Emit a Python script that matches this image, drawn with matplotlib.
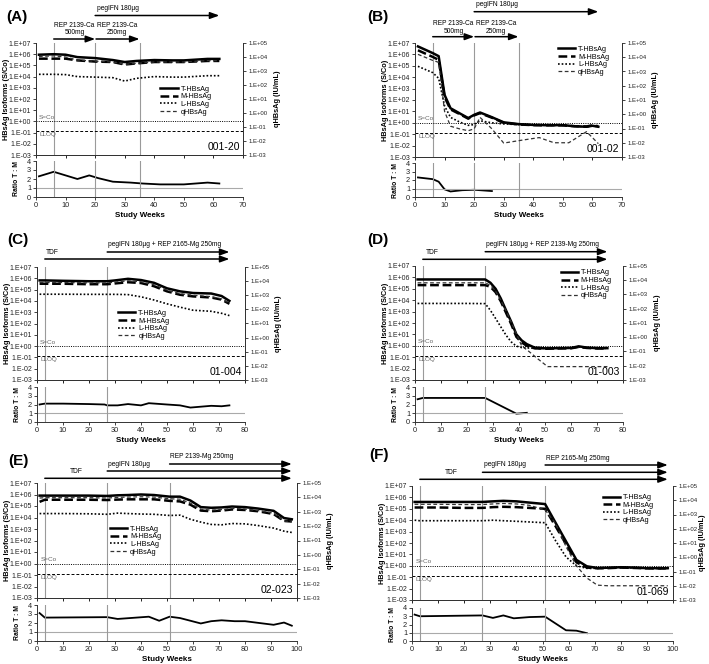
import numpy as np
import matplotlib
matplotlib.use('Agg')
import matplotlib.pyplot as plt
import matplotlib.transforms as mtrans
from matplotlib.ticker import FuncFormatter, NullLocator

plt.rcParams['font.family'] = ['Liberation Sans', 'DejaVu Sans']

W, H = 709, 664

# ---------------- data: weeks, isoforms in S/Co, qHBsAg in IU/mL ----------------
# (A) 001-20
wk_A = [1, 6, 10, 14, 20, 26, 30, 34, 40, 46, 50, 58, 62]
T_A = [9e5, 1e6, 9e5, 5.5e5, 4.5e5, 3e5, 2e5, 2.5e5, 3e5, 2.8e5, 2.8e5, 3.8e5, 3.8e5]
M_A = [4e5, 4e5, 4e5, 2.8e5, 2.2e5, 2e5, 1.2e5, 1.5e5, 2e5, 2e5, 2e5, 2.5e5, 2.5e5]
L_A = [1.6e4, 1.6e4, 1.5e4, 1e4, 9e3, 8e3, 4e3, 7e3, 1e4, 9e3, 9e3, 1.2e4, 1.2e4]
q_A = [1.1e4, 1.2e4, 1e4, 6e3, 5e3, 4.4e3, 3e3, 3.5e3, 4.4e3, 4.4e3, 4.4e3, 5.5e3, 5.5e3]
wk_rA = [1, 6, 10, 14, 18, 21, 26, 32, 36, 42, 50, 58, 62]
r_A = [2.3, 2.8, 2.4, 2.0, 2.4, 2.1, 1.7, 1.6, 1.5, 1.4, 1.4, 1.6, 1.5]

# (B) 001-02
wk_B = [1, 6, 8, 10, 12, 15, 18, 20, 22, 26, 30, 35, 40, 45, 50, 54, 58, 60, 62]
T_B = [5e6, 1.3e6, 7e5, 2.8e2, 19, 7, 2.6, 5, 8, 3.1, 1.1, 0.77, 0.65, 0.62, 0.62, 0.5, 0.45, 0.55, 0.45]
M_B = [2.3e6, 6e5, 3.3e5, 1.8e2, 15, 6, 2.3, 4.5, 7, 2.8, 1.0, 0.72, 0.62, 0.6, 0.6, 0.5, 0.48, 0.6, 0.5]
L_B = [9e4, 2.5e4, 8e3, 30, 3, 1.2, 0.6, 0.7, 1.5, 1.0, 0.8, 0.7, 0.62, 0.6, 0.6, 0.5, 0.45, 0.55, 0.45]
wk_qB = [1, 6, 8, 10, 12, 15, 18, 20, 22, 26, 30, 36, 42, 47, 52, 58, 62]
q_B = [1.6e4, 6e3, 4.4e3, 1.6, 0.145, 0.095, 0.07, 0.095, 0.6, 0.095, 0.0095, 0.015, 0.023, 0.01, 0.01, 0.06, 0.0087]
wk_rB = [1, 6, 8, 10, 12, 16, 20, 26]
r_B = [2.3, 2.1, 1.8, 0.9, 0.65, 0.8, 0.85, 0.7]

# (C) 01-004
wk_C = [1, 3, 10, 20, 27, 30, 35, 40, 45, 50, 55, 60, 67, 71, 74]
T_C = [6.5e5, 6.5e5, 6e5, 5.5e5, 5.5e5, 6.5e5, 9e5, 7e5, 4e5, 1.3e5, 7e4, 5e4, 4.5e4, 2.7e4, 1e4]
M_C = [3.3e5, 3.3e5, 3.3e5, 3e5, 3e5, 3.5e5, 4.5e5, 3.8e5, 2e5, 7e4, 3.5e4, 2.5e4, 2e4, 1.3e4, 5.5e3]
L_C = [3.9e4, 3.9e4, 3.9e4, 3.8e4, 3.8e4, 3.8e4, 3.6e4, 2.3e4, 1.2e4, 5.5e3, 2.8e3, 1.5e3, 1.2e3, 8e2, 5e2]
q_C = [8e3, 8e3, 8e3, 7.5e3, 7.5e3, 8.5e3, 1.05e4, 9e3, 5.5e3, 2.3e3, 1.3e3, 1e3, 8e2, 5.5e2, 2.8e2]
wk_rC = [1, 3, 10, 20, 26, 27, 31, 35, 40, 43, 50, 55, 59, 67, 71, 74]
r_C = [2.0, 2.1, 2.1, 2.05, 2.0, 1.9, 1.9, 2.05, 1.9, 2.15, 2.0, 1.9, 1.65, 1.85, 1.8, 1.9]

# (D) 01-003
wk_D = [1, 3, 10, 20, 27, 29, 31, 33, 35, 37, 39, 41, 43, 46, 50, 55, 60, 63, 66, 70, 74]
T_D = [6.6e5, 6.6e5, 6.6e5, 6.6e5, 6.6e5, 3.4e5, 1e5, 1.4e4, 1.3e3, 1.3e2, 10, 3, 1.4, 0.7, 0.6, 0.62, 0.65, 0.9, 0.7, 0.62, 0.62]
M_D = [2.1e5, 2.1e5, 2.1e5, 2.1e5, 2.1e5, 1.5e5, 5e4, 8e3, 8e2, 80, 6, 2, 1, 0.6, 0.55, 0.58, 0.6, 0.8, 0.65, 0.58, 0.58]
L_D = [5.2e3, 5.2e3, 5.2e3, 5.2e3, 5e3, 1.3e3, 2.5e2, 46, 8.6, 2.2, 0.93, 0.7, 0.65, 0.6, 0.58, 0.6, 0.62, 0.8, 0.65, 0.6, 0.6]
wk_qD = [1, 3, 10, 20, 27, 29, 31, 33, 35, 37, 39, 41, 44, 47, 51, 60, 74]
q_D = [6.6e3, 6.6e3, 6.6e3, 6.6e3, 6.6e3, 4.4e3, 1.7e3, 400, 73, 11.5, 1.8, 0.25, 0.095, 0.033, 0.0087, 0.0087, 0.0087]
wk_rD = [1, 3, 27, 39, 43]
r_D = [2.6, 2.75, 2.75, 0.95, 1.05]

# (E) 02-023
wk_E = [1, 3, 10, 20, 27, 31, 35, 40, 45, 51, 55, 59, 63, 67, 71, 75, 80, 85, 91, 95, 98]
T_E = [8e5, 8e5, 8e5, 8e5, 7.5e5, 8.5e5, 9e5, 1e6, 9e5, 6.5e5, 6.5e5, 3e5, 8e4, 7e4, 7.5e4, 9e4, 8e4, 6e4, 3.8e4, 9e3, 7e3]
M_E = [2.3e5, 3.5e5, 3.5e5, 3.5e5, 3.3e5, 3.6e5, 3.8e5, 3.8e5, 3.8e5, 2.8e5, 2.5e5, 1.3e5, 4e4, 3.5e4, 4e4, 5e4, 4.5e4, 3.5e4, 2e4, 5e3, 4.5e3]
L_E = [2.2e4, 2.2e4, 2.2e4, 2.1e4, 1.9e4, 2.4e4, 2.2e4, 2e4, 1.9e4, 1.5e4, 1.6e4, 7e3, 4e3, 2.5e3, 2.3e3, 3e3, 2.8e3, 2e3, 1.2e3, 6.5e2, 5e2]
q_E = [9e3, 9.5e3, 9.5e3, 9.5e3, 9e3, 1e4, 1.05e4, 1.1e4, 1.05e4, 8e3, 7.5e3, 4e3, 1.5e3, 1.3e3, 1.4e3, 1.7e3, 1.55e3, 1.2e3, 8e2, 2.3e2, 2e2]
wk_rE = [1, 3, 27, 31, 43, 47, 51, 55, 63, 67, 71, 76, 80, 91, 95, 98]
r_E = [3.1, 2.6, 2.65, 2.45, 2.7, 2.25, 2.7, 2.55, 1.95, 2.2, 2.3, 2.2, 2.2, 1.8, 2.05, 1.7]

# (F) 01-069
wk_F = [1, 3, 10, 20, 27, 31, 35, 40, 45, 51, 55, 59, 63, 67, 71, 75, 80, 85, 90, 95, 98]
T_F = [4e5, 4e5, 4e5, 4e5, 4e5, 4.5e5, 5e5, 4.5e5, 3.5e5, 2.6e5, 6e3, 1.4e2, 3.3, 0.9, 0.65, 0.68, 0.75, 0.7, 0.62, 0.62, 0.62]
M_F = [1.3e5, 1.3e5, 1.3e5, 1.2e5, 1.2e5, 1.4e5, 1.5e5, 1.4e5, 1.2e5, 1e5, 3e3, 80, 2, 0.7, 0.6, 0.62, 0.7, 0.65, 0.6, 0.58, 0.6]
L_F = [1e4, 9e3, 9e3, 9e3, 9e3, 1e4, 9e3, 8e3, 7e3, 6e3, 1.6e2, 6, 1, 0.6, 0.6, 0.62, 0.7, 0.65, 0.6, 0.58, 0.6]
q_F = [5.2e3, 5.2e3, 5.2e3, 5e3, 5e3, 5.5e3, 6e3, 5.5e3, 4.4e3, 2.1e3, 230, 5.7, 0.25, 0.035, 0.011, 0.01, 0.01, 0.01, 0.01, 0.01, 0.01]
wk_rF = [1, 3, 27, 31, 35, 39, 45, 51, 59, 63, 67]
r_F = [3.2, 3.0, 3.1, 2.8, 3.1, 2.75, 2.9, 2.95, 1.3, 1.25, 0.95]

LLOQ = 0.05  # IU/mL
SCO = 1.0    # S/Co

fig = plt.figure(figsize=(W / 100, H / 100), dpi=100)


def box(l, t, r, b):
    return [l / W, 1 - b / H, (r - l) / W, (b - t) / H]


def fy(y):
    return 1 - y / H


def sci(v, pos):
    e = int(round(np.log10(v)))
    return '1.E%+03d' % e


def style_spines(a, hide):
    for s in a.spines.values():
        s.set_linewidth(0.7)
        s.set_color('#333333')
    for s in hide:
        a.spines[s].set_visible(False)


def panel(main_box, ratio_box, xmax, wk, T, M, L, wk_q, q, wk_r, r,
          vlines, sample, leg_xy, right_off=30):
    l, t, rr, b = main_box
    wpx = rr - l
    ax = fig.add_axes(box(*main_box))
    ax2 = ax.twinx()
    ax.set_yscale('log')
    ax2.set_yscale('log')
    ax.set_ylim(1e-3, 1e7)
    ax2.set_ylim(1e-3, 1e5)
    ax.set_xlim(0, xmax)
    ax.set_yticks([10.0 ** k for k in range(-3, 8)])
    ax2.set_yticks([10.0 ** k for k in range(-3, 6)])
    for a in (ax, ax2):
        a.yaxis.set_minor_locator(NullLocator())
        a.yaxis.set_major_formatter(FuncFormatter(sci))
    ax.tick_params(axis='y', labelsize=5, length=2, width=0.6, pad=1.5, colors='#222222')
    ax2.tick_params(axis='y', labelsize=4.3, length=2, width=0.6, pad=2, colors='#222222')
    ax.set_xticks(range(0, xmax + 1, 10))
    ax.tick_params(axis='x', labelbottom=False, length=2, width=0.6)
    style_spines(ax, ['top'])
    style_spines(ax2, ['top'])

    for v in vlines:
        ax.axvline(v, color='#9a9a9a', lw=0.8, zorder=1)
    ax.axhline(SCO, color='black', lw=0.7, ls=(0, (1, 1.3)))
    ax2.axhline(LLOQ, color='black', lw=0.7, ls=(0, (3, 2)))
    tr = mtrans.blended_transform_factory(ax.transAxes, ax.transData)
    ax.text(0.015, 1.35, 'S=Co', transform=tr, fontsize=4.6, color='#666666', va='bottom')
    ax.text(0.015, 0.11, 'LLOQ', transform=tr, fontsize=4.6, color='#666666', va='top')

    hT, = ax.plot(wk, T, color='black', lw=1.8, label='T-HBsAg')
    hM, = ax.plot(wk, M, color='black', lw=1.8, ls=(0, (3.5, 1.5)), label='M-HBsAg')
    hL, = ax.plot(wk, L, color='black', lw=1.2, ls=(0, (1, 1.2)), label='L-HBsAg')
    hq, = ax2.plot(wk_q, q, color='#333333', lw=0.9, ls=(0, (3, 2)), label='qHBsAg')

    ax2.legend(handles=[hT, hM, hL, hq], loc='upper left', bbox_to_anchor=leg_xy,
               frameon=False, fontsize=5.2, borderaxespad=0, borderpad=0,
               handlelength=2.4, labelspacing=0.08, handletextpad=0.4)
    ax2.text(0.985, 0.03, sample, transform=ax.transAxes, ha='right', va='bottom', fontsize=7.5)

    ax.set_ylabel('HBsAg Isoforms (S/Co)', fontsize=5.3, fontweight='bold')
    ax.yaxis.set_label_coords(-26 / wpx, 0.5)
    ax2.set_ylabel('qHBsAg (IU/mL)', fontsize=5.3, fontweight='bold')
    ax2.yaxis.set_label_coords(1 + right_off / wpx, 0.5)

    # ratio T:M underneath
    axr = fig.add_axes(box(*ratio_box))
    axr.plot(wk_r, r, color='black', lw=1.3)
    axr.axhline(1, color='#aaaaaa', lw=0.8)
    for v in vlines:
        axr.axvline(v, color='#9a9a9a', lw=0.8)
    axr.set_xlim(0, xmax)
    axr.set_ylim(0, 4)
    axr.set_yticks([0, 1, 2, 3, 4])
    axr.set_xticks(range(0, xmax + 1, 10))
    axr.tick_params(labelsize=5.3, length=2, width=0.6, pad=1.5, colors='#222222')
    style_spines(axr, ['top', 'right'])
    axr.set_ylabel('Ratio T : M', fontsize=4.9, fontweight='bold')
    axr.yaxis.set_label_coords(-16 / wpx, 0.5)
    axr.set_xlabel('Study Weeks', fontsize=5.8, fontweight='bold', labelpad=2)
    return ax


def arrow(ax, x0, x1, ypx):
    tr = mtrans.blended_transform_factory(ax.transData, fig.transFigure)
    ax.annotate('', xy=(x1, fy(ypx)), xytext=(x0, fy(ypx)), xycoords=tr, textcoords=tr,
                arrowprops=dict(arrowstyle='-|>,head_length=0.55,head_width=0.2', lw=1.1,
                                color='black', shrinkA=0, shrinkB=0),
                annotation_clip=False)


def note(ax, x, ypx, s, ha='left'):
    tr = mtrans.blended_transform_factory(ax.transData, fig.transFigure)
    ax.text(x, fy(ypx), s, transform=tr, ha=ha, va='center', fontsize=4.8,
            linespacing=1.1, clip_on=False)


def letter(xpx, ypx, s):
    fig.text(xpx / W, fy(ypx), s, fontsize=11, fontweight='bold', va='center', ha='left')


# (A)
axA = panel((36, 43, 243, 155), (36, 161, 243, 197), 70, wk_A, T_A, M_A, L_A,
            wk_A, q_A, wk_rA, r_A, [6, 20, 35], '001-20', (0.6, 0.62), 31)
arrow(axA, 20, 62, 15.5)
note(axA, 20.5, 8, 'pegIFN 180µg')
arrow(axA, 6, 20, 39)
arrow(axA, 20.3, 35, 39)
note(axA, 13, 29, 'REP 2139-Ca\n500mg', 'center')
note(axA, 27.5, 29, 'REP 2139-Ca\n250mg', 'center')
letter(6, 17, '(A)')

# (B)
axB = panel((415, 43, 622, 157), (415, 163, 622, 197), 70, wk_B, T_B, M_B, L_B,
            wk_qB, q_B, wk_rB, r_B, [6, 20, 35], '001-02', (0.69, 0.975), 30)
arrow(axB, 20, 62, 11.7)
note(axB, 20.5, 5, 'pegIFN 180µg')
arrow(axB, 6, 20, 36.7)
arrow(axB, 20.3, 35, 36.7)
note(axB, 13, 27.5, 'REP 2139-Ca\n500mg', 'center')
note(axB, 27.5, 27.5, 'REP 2139-Ca\n250mg', 'center')
letter(367, 17, '(B)')

# (C)
axC = panel((37, 267, 245, 380), (37, 387, 245, 422), 80, wk_C, T_C, M_C, L_C,
            wk_C, q_C, wk_rC, r_C, [3, 27], '01-004', (0.39, 0.62), 30)
note(axC, 27.5, 244, 'pegIFN 180µg + REP 2165-Mg 250mg')
arrow(axC, 27, 74, 252)
note(axC, 3.5, 252, 'TDF')
arrow(axC, 3, 74, 259)
letter(7, 240, '(C)')

# (D)
axD = panel((415, 266, 623, 380), (415, 387, 623, 422), 80, wk_D, T_D, M_D, L_D,
            wk_qD, q_D, wk_rD, r_D, [3, 27], '01-003', (0.70, 0.97), 31)
note(axD, 27.5, 244, 'pegIFN 180µg + REP 2139-Mg 250mg')
arrow(axD, 27, 74, 251.7)
note(axD, 4, 252, 'TDF')
arrow(axD, 3, 74, 259.3)
letter(367, 240.5, '(D)')

# (E)
axE = panel((37, 483, 297, 598), (37, 605, 297, 641), 100, wk_E, T_E, M_E, L_E,
            wk_E, q_E, wk_rE, r_E, [3, 27, 51], '02-023', (0.28, 0.63), 30)
note(axE, 51, 456.7, 'REP 2139-Mg 250mg')
arrow(axE, 51, 98, 464)
note(axE, 27.3, 464, 'pegIFN 180µg')
arrow(axE, 27, 98, 471)
note(axE, 15, 471.7, 'TDF', 'center')
arrow(axE, 3, 98, 478.3)
letter(8, 460.5, '(E)')

# (F)
axF = panel((412, 486, 673, 600), (412, 608, 673, 641), 100, wk_F, T_F, M_F, L_F,
            wk_F, q_F, wk_rF, r_F, [3, 27, 51], '01-069', (0.73, 0.93), 26)
note(axF, 51.5, 458.3, 'REP 2165-Mg 250mg')
arrow(axF, 51, 98, 465)
note(axF, 27.6, 465, 'pegIFN 180µg')
arrow(axF, 27, 98, 472.3)
note(axF, 15.2, 473, 'TDF', 'center')
arrow(axF, 3, 98, 479.3)
letter(369, 455.5, '(F)')

fig.savefig('out.png', dpi=100)
